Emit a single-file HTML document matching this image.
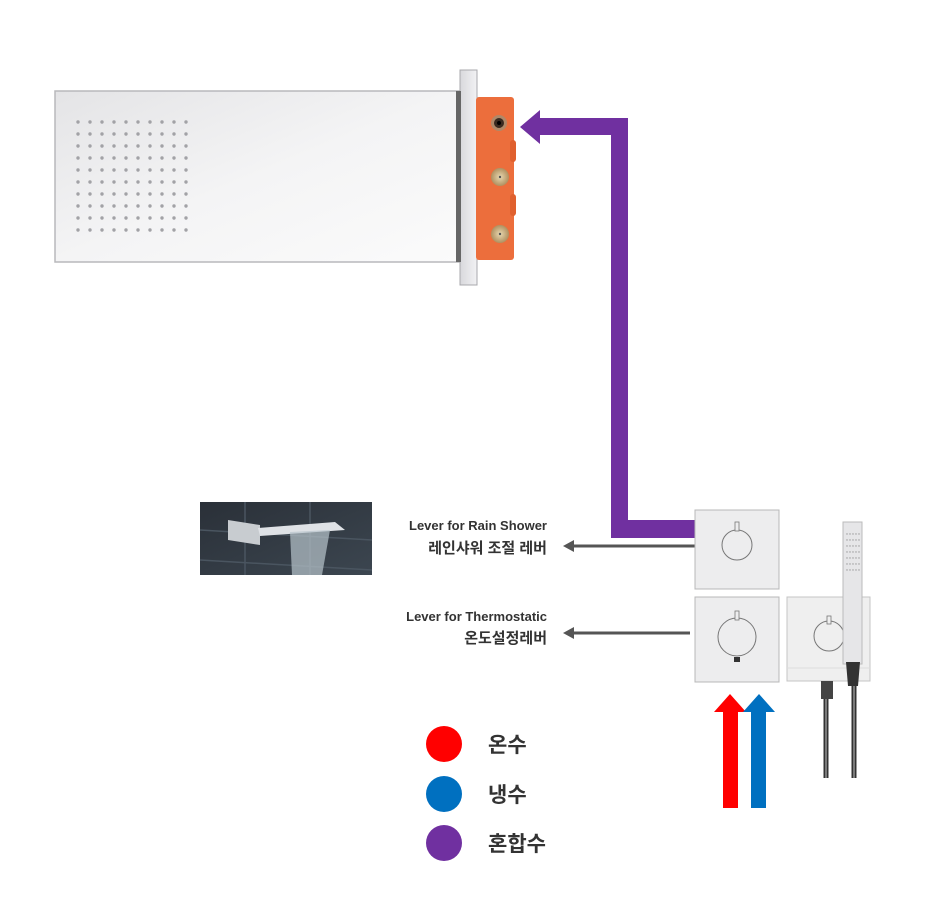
<!DOCTYPE html>
<html><head><meta charset="utf-8"><style>
html,body{margin:0;padding:0;background:#fff;}
svg{display:block;}
text{font-family:"Liberation Sans","Noto Sans CJK KR",sans-serif;}
</style></head><body>
<svg width="937" height="916" viewBox="0 0 937 916" xmlns="http://www.w3.org/2000/svg">
<defs>
<linearGradient id="pg" x1="0" y1="0" x2="1" y2="1">
<stop offset="0" stop-color="#e4e4e6"/><stop offset="0.5" stop-color="#f4f4f5"/><stop offset="1" stop-color="#fbfbfb"/>
</linearGradient>
<linearGradient id="fl" x1="0" y1="0" x2="1" y2="0">
<stop offset="0" stop-color="#d8d8dc"/><stop offset="1" stop-color="#f2f2f4"/>
</linearGradient>
<radialGradient id="brass"><stop offset="0" stop-color="#e8d8b0"/><stop offset="1" stop-color="#b09060"/></radialGradient>
<linearGradient id="ph" x1="0" y1="0" x2="1" y2="1"><stop offset="0" stop-color="#2a3038"/><stop offset="1" stop-color="#3c4650"/></linearGradient>
</defs>

<rect x="55" y="91" width="408" height="171" fill="url(#pg)" stroke="#b8b8bc" stroke-width="1.5"/>
<rect x="460" y="70" width="17" height="215" fill="url(#fl)" stroke="#a8a8ac"/>
<rect x="456" y="91" width="5" height="171" fill="#666"/>
<rect x="476" y="97" width="38" height="163" rx="3" fill="#ec6e3c"/>
<rect x="510" y="140" width="6" height="22" rx="3" fill="#e0602e"/>
<rect x="510" y="194" width="6" height="22" rx="3" fill="#e0602e"/>
<circle cx="499" cy="123" r="8" fill="#b08868"/><circle cx="499" cy="123" r="5" fill="#3a2a20"/><circle cx="499" cy="123" r="2" fill="#000"/>
<circle cx="500" cy="177" r="9" fill="url(#brass)"/><circle cx="500" cy="177" r="1.2" fill="#555"/>
<circle cx="500" cy="234" r="9" fill="url(#brass)"/><circle cx="500" cy="234" r="1.2" fill="#555"/>

<path d="M697 520 L628 520 L628 118 L540 118 L540 110 L520 127 L540 144 L540 135 L611 135 L611 538 L697 538 Z" fill="#7030a0"/>

<rect x="200" y="502" width="172" height="73" fill="url(#ph)"/>
<g stroke="#4a5560" stroke-width="1.5">
<line x1="200" y1="530" x2="372" y2="540"/><line x1="200" y1="560" x2="372" y2="570"/>
<line x1="245" y1="502" x2="245" y2="575"/><line x1="310" y1="502" x2="310" y2="575"/>
</g>
<polygon points="228,520 260,525 260,545 228,540" fill="#c8ccd0"/>
<polygon points="258,528 335,522 345,530 260,536" fill="#dfe2e6"/>
<polygon points="290,532 330,530 322,575 292,575" fill="#b8c4cc" opacity="0.7"/>

<text x="547" y="530" font-size="13" font-weight="bold" fill="#333" text-anchor="end">Lever for Rain Shower</text>
<text x="547" y="553" font-size="15" font-weight="bold" fill="#333" text-anchor="end">레인샤워 조절 레버</text>
<text x="547" y="621" font-size="13" font-weight="bold" fill="#333" text-anchor="end">Lever for Thermostatic</text>
<text x="547" y="643" font-size="15" font-weight="bold" fill="#333" text-anchor="end">온도설정레버</text>

<line x1="697" y1="546" x2="572" y2="546" stroke="#555" stroke-width="3"/>
<polygon points="563,546 574,540 574,552" fill="#555"/>
<line x1="690" y1="633" x2="572" y2="633" stroke="#555" stroke-width="3"/>
<polygon points="563,633 574,627 574,639" fill="#555"/>

<rect x="695" y="510" width="84" height="79" fill="#ededee" stroke="#b8b8b8"/>
<circle cx="737" cy="545" r="15" fill="none" stroke="#777"/>
<rect x="735" y="522" width="4" height="9" fill="#ededee" stroke="#777" stroke-width="0.8"/>
<rect x="695" y="597" width="84" height="85" fill="#ededee" stroke="#b8b8b8"/>
<circle cx="737" cy="637" r="19" fill="none" stroke="#777"/>
<rect x="735" y="611" width="4" height="9" fill="#ededee" stroke="#777" stroke-width="0.8"/>
<rect x="734" y="657" width="6" height="5" fill="#333"/>
<rect x="787" y="597" width="83" height="84" fill="#efefef" stroke="#c4c4c4"/>
<line x1="787" y1="668" x2="870" y2="668" stroke="#ddd"/>
<circle cx="829" cy="636" r="15" fill="none" stroke="#777"/>
<rect x="827" y="616" width="4" height="8" fill="#efefef" stroke="#777" stroke-width="0.8"/>
<path d="M826 695 L826 778" stroke="#333" stroke-width="5" fill="none"/>
<path d="M826 695 L826 778" stroke="#aaa" stroke-width="1.2" fill="none"/>
<rect x="821" y="681" width="12" height="18" fill="#444"/>
<path d="M854 680 L854 778" stroke="#333" stroke-width="5" fill="none"/>
<path d="M854 680 L854 778" stroke="#aaa" stroke-width="1.2" fill="none"/>
<rect x="843" y="522" width="19" height="142" fill="#e6e6e8" stroke="#bbb"/>
<polygon points="846,662 860,662 858,686 848,686" fill="#333"/>
<g fill="#999">
<circle cx="847" cy="534" r="0.7"/><circle cx="850" cy="534" r="0.7"/><circle cx="853" cy="534" r="0.7"/><circle cx="856" cy="534" r="0.7"/><circle cx="859" cy="534" r="0.7"/>
<circle cx="847" cy="540" r="0.7"/><circle cx="850" cy="540" r="0.7"/><circle cx="853" cy="540" r="0.7"/><circle cx="856" cy="540" r="0.7"/><circle cx="859" cy="540" r="0.7"/>
<circle cx="847" cy="546" r="0.7"/><circle cx="850" cy="546" r="0.7"/><circle cx="853" cy="546" r="0.7"/><circle cx="856" cy="546" r="0.7"/><circle cx="859" cy="546" r="0.7"/>
<circle cx="847" cy="552" r="0.7"/><circle cx="850" cy="552" r="0.7"/><circle cx="853" cy="552" r="0.7"/><circle cx="856" cy="552" r="0.7"/><circle cx="859" cy="552" r="0.7"/>
<circle cx="847" cy="558" r="0.7"/><circle cx="850" cy="558" r="0.7"/><circle cx="853" cy="558" r="0.7"/><circle cx="856" cy="558" r="0.7"/><circle cx="859" cy="558" r="0.7"/>
<circle cx="847" cy="564" r="0.7"/><circle cx="850" cy="564" r="0.7"/><circle cx="853" cy="564" r="0.7"/><circle cx="856" cy="564" r="0.7"/><circle cx="859" cy="564" r="0.7"/>
<circle cx="847" cy="570" r="0.7"/><circle cx="850" cy="570" r="0.7"/><circle cx="853" cy="570" r="0.7"/><circle cx="856" cy="570" r="0.7"/><circle cx="859" cy="570" r="0.7"/>
</g>

<polygon points="723,808 738,808 738,712 746,712 730,694 714,712 723,712" fill="#ff0000"/>
<polygon points="751,808 766,808 766,712 775,712 759,694 743,712 751,712" fill="#0070c0"/>

<circle cx="444" cy="744" r="18" fill="#ff0000"/>
<circle cx="444" cy="794" r="18" fill="#0070c0"/>
<circle cx="444" cy="843" r="18" fill="#7030a0"/>
<text x="488" y="752" font-size="21" font-weight="bold" fill="#333">온수</text>
<text x="488" y="802" font-size="21" font-weight="bold" fill="#333">냉수</text>
<text x="488" y="851" font-size="21" font-weight="bold" fill="#333">혼합수</text>

<g fill="#a2a2a6">
<circle cx="78" cy="122" r="1.7"/><circle cx="90" cy="122" r="1.7"/><circle cx="102" cy="122" r="1.7"/><circle cx="114" cy="122" r="1.7"/><circle cx="126" cy="122" r="1.7"/><circle cx="138" cy="122" r="1.7"/><circle cx="150" cy="122" r="1.7"/><circle cx="162" cy="122" r="1.7"/><circle cx="174" cy="122" r="1.7"/><circle cx="186" cy="122" r="1.7"/>
<circle cx="78" cy="134" r="1.7"/><circle cx="90" cy="134" r="1.7"/><circle cx="102" cy="134" r="1.7"/><circle cx="114" cy="134" r="1.7"/><circle cx="126" cy="134" r="1.7"/><circle cx="138" cy="134" r="1.7"/><circle cx="150" cy="134" r="1.7"/><circle cx="162" cy="134" r="1.7"/><circle cx="174" cy="134" r="1.7"/><circle cx="186" cy="134" r="1.7"/>
<circle cx="78" cy="146" r="1.7"/><circle cx="90" cy="146" r="1.7"/><circle cx="102" cy="146" r="1.7"/><circle cx="114" cy="146" r="1.7"/><circle cx="126" cy="146" r="1.7"/><circle cx="138" cy="146" r="1.7"/><circle cx="150" cy="146" r="1.7"/><circle cx="162" cy="146" r="1.7"/><circle cx="174" cy="146" r="1.7"/><circle cx="186" cy="146" r="1.7"/>
<circle cx="78" cy="158" r="1.7"/><circle cx="90" cy="158" r="1.7"/><circle cx="102" cy="158" r="1.7"/><circle cx="114" cy="158" r="1.7"/><circle cx="126" cy="158" r="1.7"/><circle cx="138" cy="158" r="1.7"/><circle cx="150" cy="158" r="1.7"/><circle cx="162" cy="158" r="1.7"/><circle cx="174" cy="158" r="1.7"/><circle cx="186" cy="158" r="1.7"/>
<circle cx="78" cy="170" r="1.7"/><circle cx="90" cy="170" r="1.7"/><circle cx="102" cy="170" r="1.7"/><circle cx="114" cy="170" r="1.7"/><circle cx="126" cy="170" r="1.7"/><circle cx="138" cy="170" r="1.7"/><circle cx="150" cy="170" r="1.7"/><circle cx="162" cy="170" r="1.7"/><circle cx="174" cy="170" r="1.7"/><circle cx="186" cy="170" r="1.7"/>
<circle cx="78" cy="182" r="1.7"/><circle cx="90" cy="182" r="1.7"/><circle cx="102" cy="182" r="1.7"/><circle cx="114" cy="182" r="1.7"/><circle cx="126" cy="182" r="1.7"/><circle cx="138" cy="182" r="1.7"/><circle cx="150" cy="182" r="1.7"/><circle cx="162" cy="182" r="1.7"/><circle cx="174" cy="182" r="1.7"/><circle cx="186" cy="182" r="1.7"/>
<circle cx="78" cy="194" r="1.7"/><circle cx="90" cy="194" r="1.7"/><circle cx="102" cy="194" r="1.7"/><circle cx="114" cy="194" r="1.7"/><circle cx="126" cy="194" r="1.7"/><circle cx="138" cy="194" r="1.7"/><circle cx="150" cy="194" r="1.7"/><circle cx="162" cy="194" r="1.7"/><circle cx="174" cy="194" r="1.7"/><circle cx="186" cy="194" r="1.7"/>
<circle cx="78" cy="206" r="1.7"/><circle cx="90" cy="206" r="1.7"/><circle cx="102" cy="206" r="1.7"/><circle cx="114" cy="206" r="1.7"/><circle cx="126" cy="206" r="1.7"/><circle cx="138" cy="206" r="1.7"/><circle cx="150" cy="206" r="1.7"/><circle cx="162" cy="206" r="1.7"/><circle cx="174" cy="206" r="1.7"/><circle cx="186" cy="206" r="1.7"/>
<circle cx="78" cy="218" r="1.7"/><circle cx="90" cy="218" r="1.7"/><circle cx="102" cy="218" r="1.7"/><circle cx="114" cy="218" r="1.7"/><circle cx="126" cy="218" r="1.7"/><circle cx="138" cy="218" r="1.7"/><circle cx="150" cy="218" r="1.7"/><circle cx="162" cy="218" r="1.7"/><circle cx="174" cy="218" r="1.7"/><circle cx="186" cy="218" r="1.7"/>
<circle cx="78" cy="230" r="1.7"/><circle cx="90" cy="230" r="1.7"/><circle cx="102" cy="230" r="1.7"/><circle cx="114" cy="230" r="1.7"/><circle cx="126" cy="230" r="1.7"/><circle cx="138" cy="230" r="1.7"/><circle cx="150" cy="230" r="1.7"/><circle cx="162" cy="230" r="1.7"/><circle cx="174" cy="230" r="1.7"/><circle cx="186" cy="230" r="1.7"/>
</g>
</svg>
</body></html>
